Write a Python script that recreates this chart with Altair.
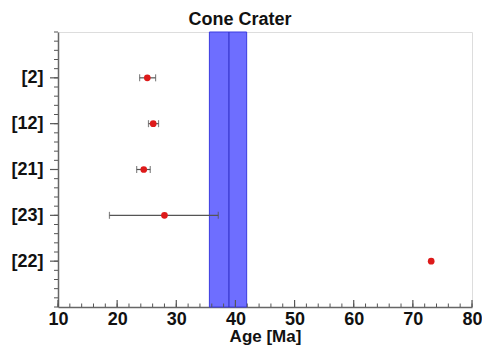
import altair as alt
import pandas as pd

labels = ["[2]", "[12]", "[21]", "[23]", "[22]"]
pos = [5, 4, 3, 2, 1]
age = [25.1, 26.1, 24.5, 28.0, 73.1]
lo = [23.8, 25.3, 23.3, 18.7, None]
hi = [26.5, 27.0, 25.6, 37.1, None]

band_lo, band_hi, band_mid = 35.6, 41.9, 38.9

x_major = [10, 20, 30, 40, 50, 60, 70, 80]
x_minor = list(range(10, 81, 2))
y_major = [1, 2, 3, 4, 5]
y_minor = [i / 5 for i in range(0, 31)]

W, H = 414, 275

df = pd.DataFrame({"label": labels, "pos": pos, "age": age, "lo": lo, "hi": hi})
err = df.dropna()

xs = alt.Scale(domain=[10, 80], nice=False, zero=False)
ys = alt.Scale(domain=[0, 6], nice=False, zero=False)

lab_expr = "{" + ",".join(f"'{p}':'{l}'" for p, l in zip(pos, labels)) + "}[datum.value]"

band = alt.Chart(pd.DataFrame({"a": [band_lo], "b": [band_hi]})).mark_rect(
    fill="#6e6eff", stroke="#3a3ae0", strokeWidth=1
).encode(
    x=alt.X("a:Q", scale=xs, axis=alt.Axis(
        title="Age [Ma]", values=x_major, format="d", ticks=False, grid=False, labelFlush=False,
        labelFont="Liberation Sans", labelFontSize=18, labelFontWeight="bold", labelColor="#111",
        labelPadding=3, titleFont="Liberation Sans", titleFontSize=17, titleFontWeight="bold",
        titleColor="#111", titlePadding=0, titleX=207, domainColor="#666", domainWidth=1.5)),
    x2="b:Q",
    y=alt.value(0), y2=alt.value(H),
)

mid = alt.Chart(pd.DataFrame({"m": [band_mid]})).mark_rule(color="#2a2ac0", strokeWidth=1).encode(
    x=alt.X("m:Q", scale=xs), y=alt.value(0), y2=alt.value(H)
)

xtick_minor = alt.Chart(pd.DataFrame({"t": x_minor})).mark_rule(color="#555", strokeWidth=1).encode(
    x=alt.X("t:Q", scale=xs), y=alt.value(H), y2=alt.value(H - 3.5)
)
xtick_major = alt.Chart(pd.DataFrame({"t": x_major})).mark_rule(color="#555", strokeWidth=1.2).encode(
    x=alt.X("t:Q", scale=xs), y=alt.value(H), y2=alt.value(H - 7)
)
ytick_minor = alt.Chart(pd.DataFrame({"t": y_minor})).mark_rule(color="#555", strokeWidth=1).encode(
    y=alt.Y("t:Q", scale=ys), x=alt.value(-4), x2=alt.value(0)
)
ytick_major = alt.Chart(pd.DataFrame({"t": y_major})).mark_rule(color="#555", strokeWidth=1.2).encode(
    y=alt.Y("t:Q", scale=ys), x=alt.value(-8), x2=alt.value(0)
)

errbar = alt.Chart(err).mark_rule(color="#555", strokeWidth=1.2).encode(
    x=alt.X("lo:Q", scale=xs), x2="hi:Q",
    y=alt.Y("pos:Q", scale=ys, axis=alt.Axis(
        title=None, values=y_major, labelExpr=lab_expr, ticks=False, grid=False,
        labelFont="Liberation Sans", labelFontSize=18, labelFontWeight="bold", labelColor="#111",
        labelPadding=15, domainColor="#666", domainWidth=1.5)),
)
cap_lo = alt.Chart(err).mark_tick(color="#555", orient="vertical", size=7, thickness=1.2).encode(
    x=alt.X("lo:Q", scale=xs), y=alt.Y("pos:Q", scale=ys)
)
cap_hi = alt.Chart(err).mark_tick(color="#555", orient="vertical", size=7, thickness=1.2).encode(
    x=alt.X("hi:Q", scale=xs), y=alt.Y("pos:Q", scale=ys)
)
pts = alt.Chart(df).mark_circle(color="#dd1a1a", opacity=1, size=45).encode(
    x=alt.X("age:Q", scale=xs), y=alt.Y("pos:Q", scale=ys)
)

chart = alt.layer(
    band, mid, xtick_minor, xtick_major, ytick_minor, ytick_major, errbar, cap_lo, cap_hi, pts
).properties(
    width=W, height=H,
    title=alt.TitleParams("Cone Crater", font="Liberation Sans", fontSize=18, fontWeight="bold",
                          color="#111", anchor="middle", dx=-25, offset=3),
    autosize=alt.AutoSizeParams(type="none"),
    padding={"left": 50, "top": 24, "right": 10, "bottom": 38},
).configure_view(stroke="#999", strokeWidth=1).configure(background="white")

chart.save("out.html", embed_options={"renderer": "svg", "actions": False})
